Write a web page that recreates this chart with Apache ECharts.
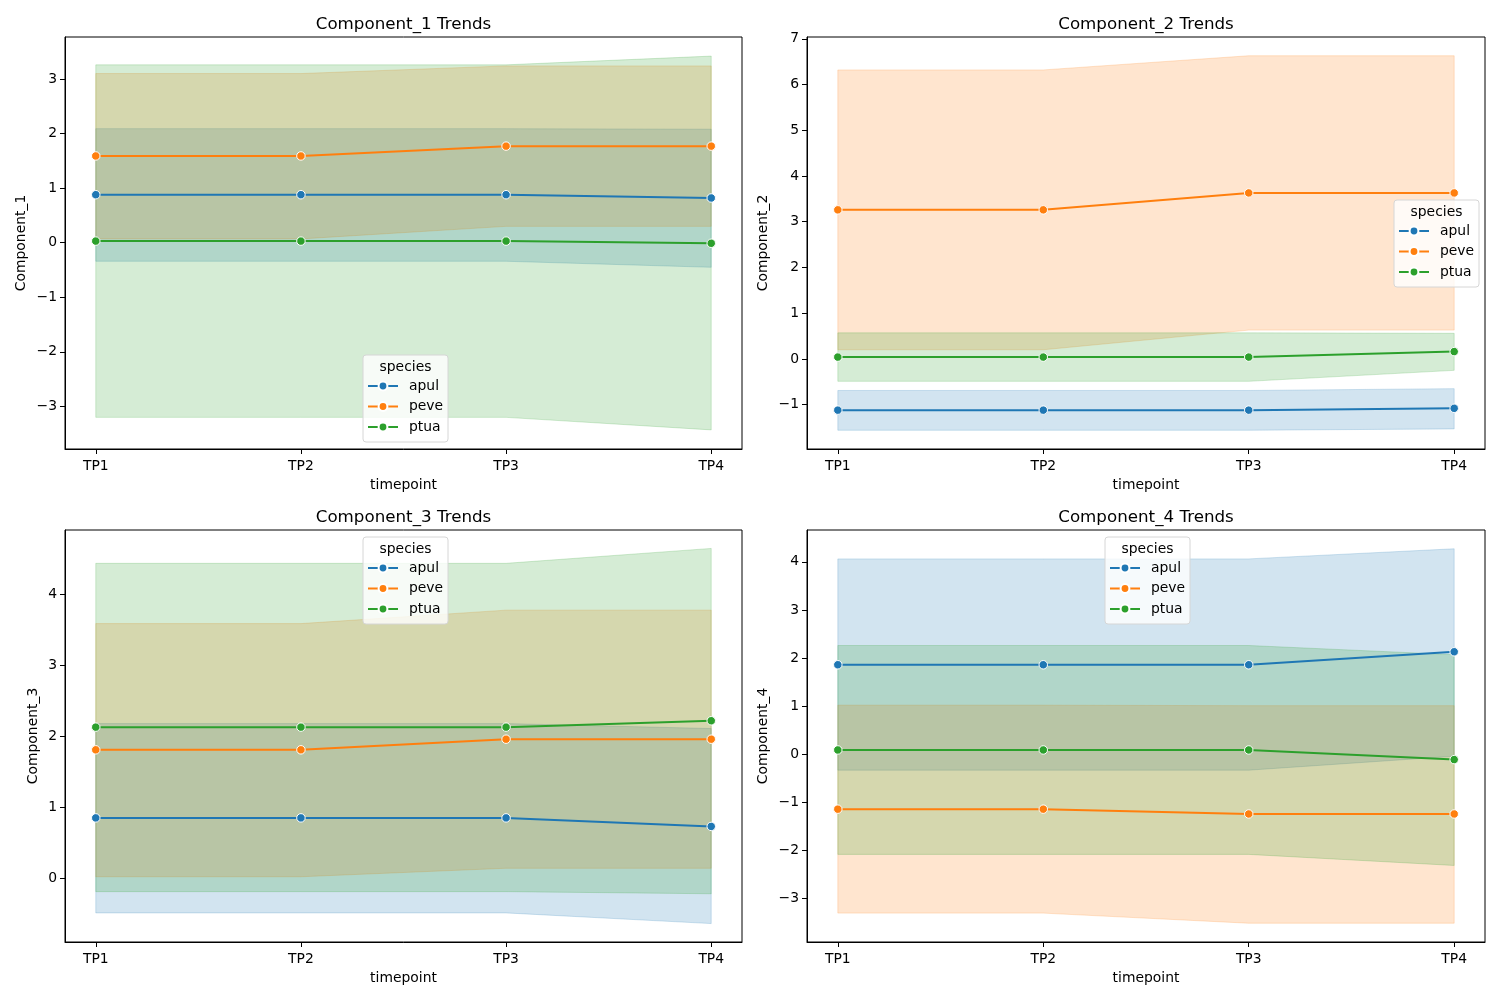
<!DOCTYPE html>
<html>
<head>
<meta charset="utf-8">
<script src="https://cdn.jsdelivr.net/npm/echarts@6/dist/echarts.min.js"></script>
<style>html,body{margin:0;padding:0;background:#fff;}#chart{width:1500px;height:1000px;}</style>
</head>
<body>
<div id="chart"></div>
<script>
const timepoints = ['TP1', 'TP2', 'TP3', 'TP4'];
const species = ['apul', 'peve', 'ptua'];
const components = ['Component_1', 'Component_2', 'Component_3', 'Component_4'];

// Component_1
const c1_apul_mean = [0.88, 0.88, 0.88, 0.82];
const c1_apul_lo   = [-0.34, -0.34, -0.34, -0.45];
const c1_apul_hi   = [2.09, 2.09, 2.09, 2.08];
const c1_peve_mean = [1.59, 1.59, 1.77, 1.77];
const c1_peve_lo   = [0.07, 0.07, 0.30, 0.30];
const c1_peve_hi   = [3.10, 3.10, 3.24, 3.24];
const c1_ptua_mean = [0.03, 0.03, 0.03, -0.01];
const c1_ptua_lo   = [-3.20, -3.20, -3.20, -3.43];
const c1_ptua_hi   = [3.26, 3.26, 3.26, 3.42];

// Component_2
const c2_apul_mean = [-1.12, -1.12, -1.12, -1.08];
const c2_apul_lo   = [-1.56, -1.56, -1.56, -1.53];
const c2_apul_hi   = [-0.69, -0.69, -0.69, -0.65];
const c2_peve_mean = [3.26, 3.26, 3.63, 3.63];
const c2_peve_lo   = [0.20, 0.20, 0.63, 0.63];
const c2_peve_hi   = [6.32, 6.32, 6.63, 6.63];
const c2_ptua_mean = [0.04, 0.04, 0.04, 0.16];
const c2_ptua_lo   = [-0.49, -0.49, -0.49, -0.25];
const c2_ptua_hi   = [0.57, 0.57, 0.57, 0.56];

// Component_3
const c3_apul_mean = [0.85, 0.85, 0.85, 0.73];
const c3_apul_lo   = [-0.49, -0.49, -0.49, -0.64];
const c3_apul_hi   = [2.18, 2.18, 2.18, 2.11];
const c3_peve_mean = [1.81, 1.81, 1.96, 1.96];
const c3_peve_lo   = [0.02, 0.02, 0.14, 0.14];
const c3_peve_hi   = [3.59, 3.59, 3.78, 3.78];
const c3_ptua_mean = [2.13, 2.13, 2.13, 2.22];
const c3_ptua_lo   = [-0.19, -0.19, -0.19, -0.22];
const c3_ptua_hi   = [4.44, 4.44, 4.44, 4.65];

// Component_4
const c4_apul_mean = [1.86, 1.86, 1.86, 2.13];
const c4_apul_lo   = [-0.33, -0.33, -0.33, -0.04];
const c4_apul_hi   = [4.06, 4.06, 4.06, 4.27];
const c4_peve_mean = [-1.14, -1.14, -1.24, -1.24];
const c4_peve_lo   = [-3.30, -3.30, -3.51, -3.51];
const c4_peve_hi   = [1.02, 1.02, 1.01, 1.01];
const c4_ptua_mean = [0.09, 0.09, 0.09, -0.11];
const c4_ptua_lo   = [-2.08, -2.08, -2.08, -2.31];
const c4_ptua_hi   = [2.26, 2.26, 2.26, 2.07];

// y-axis ticks and limits
const yTicks = [[-3, -2, -1, 0, 1, 2, 3], [-1, 0, 1, 2, 3, 4, 5, 6, 7], [0, 1, 2, 3, 4], [-3, -2, -1, 0, 1, 2, 3, 4]];
const yLimits = [[-3.78, 3.77], [-1.97, 7.04], [-0.90, 4.91], [-3.90, 4.66]];

const data = [
  { apul: [c1_apul_mean, c1_apul_lo, c1_apul_hi], peve: [c1_peve_mean, c1_peve_lo, c1_peve_hi], ptua: [c1_ptua_mean, c1_ptua_lo, c1_ptua_hi] },
  { apul: [c2_apul_mean, c2_apul_lo, c2_apul_hi], peve: [c2_peve_mean, c2_peve_lo, c2_peve_hi], ptua: [c2_ptua_mean, c2_ptua_lo, c2_ptua_hi] },
  { apul: [c3_apul_mean, c3_apul_lo, c3_apul_hi], peve: [c3_peve_mean, c3_peve_lo, c3_peve_hi], ptua: [c3_ptua_mean, c3_ptua_lo, c3_ptua_hi] },
  { apul: [c4_apul_mean, c4_apul_lo, c4_apul_hi], peve: [c4_peve_mean, c4_peve_lo, c4_peve_hi], ptua: [c4_ptua_mean, c4_ptua_lo, c4_ptua_hi] }
];

const colors = { apul: '#1f77b4', peve: '#ff7f0e', ptua: '#2ca02c' };
const bandColors = { apul: 'rgba(31,119,180,0.2)', peve: 'rgba(255,127,14,0.2)', ptua: 'rgba(44,160,44,0.2)' };

const FONT = 'DejaVu Sans';
const grids = [
  { left: 65, top: 37, width: 677, height: 412 },
  { left: 807, top: 37, width: 678, height: 412 },
  { left: 65, top: 530, width: 677, height: 412 },
  { left: 807, top: 530, width: 678, height: 412 }
];
const yNameGap = [37, 37, 25, 37];
const legendBoxes = [
  { x: 363, y: 355 }, { x: 1394, y: 200 }, { x: 363, y: 537 }, { x: 1105, y: 537 }
];
const BOXW = 85, BOXH = 87;

function fmtNum(v) { return v < 0 ? '\u2212' + Math.abs(v) : String(v); }

function makeBand(fill) {
  return function (params, api) {
    if (params.dataIndexInside !== 0) return null;
    const n = params.dataInsideLength;
    const top = [], bot = [];
    for (let i = 0; i < n; i++) {
      top.push(api.coord([api.value(0, i), api.value(2, i)]));
      bot.push(api.coord([api.value(0, i), api.value(1, i)]));
    }
    return {
      type: 'polygon',
      shape: { points: top.concat(bot.reverse()) },
      style: { fill: fill, stroke: fill, lineWidth: 1 }
    };
  };
}

const xAxis = [], yAxis = [], series = [], legend = [], graphic = [];

grids.forEach((g, p) => {
  xAxis.push({
    type: 'value', gridIndex: p, min: -0.15, max: 3.15,
    name: 'timepoint', nameLocation: 'middle', nameGap: 29,
    nameTextStyle: { fontFamily: FONT, fontSize: 13.9, color: '#000' },
    axisLine: { onZero: false, lineStyle: { color: '#000', width: 1 } },
    axisTick: { show: true, length: 5, lineStyle: { color: '#000' }, customValues: [0, 1, 2, 3] },
    axisLabel: { margin: 10, fontFamily: FONT, fontSize: 13.9, color: '#000', customValues: [0, 1, 2, 3],
      formatter: v => timepoints[Math.round(v)] },
    splitLine: { show: false }
  });
  yAxis.push({
    type: 'value', gridIndex: p, min: yLimits[p][0], max: yLimits[p][1],
    name: components[p], nameLocation: 'middle', nameGap: yNameGap[p],
    nameTextStyle: { fontFamily: FONT, fontSize: 13.9, color: '#000' },
    axisLine: { show: true, onZero: false, lineStyle: { color: '#000', width: 1 } },
    axisTick: { show: true, length: 5, lineStyle: { color: '#000' }, customValues: yTicks[p] },
    axisLabel: { margin: 8, fontFamily: FONT, fontSize: 13.9, color: '#000', customValues: yTicks[p],
      formatter: v => fmtNum(v) },
    splitLine: { show: false }
  });
  species.forEach(s => {
    const [mean, lo, hi] = data[p][s];
    series.push({
      type: 'custom', name: s + '_band_' + p, xAxisIndex: p, yAxisIndex: p, z: 1,
      renderItem: makeBand(bandColors[s]),
      encode: { x: 0, y: [1, 2] },
      data: timepoints.map((t, i) => [i, lo[i], hi[i]]),
      silent: true
    });
  });
  species.forEach(s => {
    const mean = data[p][s][0];
    series.push({
      type: 'line', name: s, xAxisIndex: p, yAxisIndex: p, z: 3,
      color: colors[s],
      symbol: 'circle', symbolSize: 8.5, showSymbol: true,
      itemStyle: { color: colors[s], borderColor: '#fff', borderWidth: 1 },
      lineStyle: { width: 2, color: colors[s] },
      emphasis: { disabled: true },
      data: timepoints.map((t, i) => [i, mean[i]])
    });
  });
  const b = legendBoxes[p];
  legend.push({
    data: species, orient: 'vertical', left: b.x + 4, top: b.y + 23,
    itemWidth: 30, itemHeight: 11, itemGap: 4.5, padding: 0, selectedMode: false, z: 20,
    textStyle: { fontFamily: FONT, fontSize: 13.9, color: '#000', lineHeight: 16, padding: [0, 0, 0, 6] }
  });
  graphic.push({
    type: 'rect', z: 10, silent: true,
    shape: { x: b.x, y: b.y, width: BOXW, height: BOXH, r: 3 },
    style: { fill: 'rgba(255,255,255,0.8)', stroke: '#d6d6d6', lineWidth: 1 }
  });
  graphic.push({
    type: 'text', z: 11, silent: true,
    x: b.x + BOXW / 2, y: b.y + 12,
    style: { text: 'species', fontFamily: FONT, fontSize: 13.9, fill: '#000', align: 'center', verticalAlign: 'middle' }
  });
  graphic.push({
    type: 'text', z: 11, silent: true,
    x: g.left + g.width / 2, y: g.top - 12,
    style: { text: components[p] + ' Trends', fontFamily: FONT, fontSize: 16.7, fill: '#000', align: 'center', verticalAlign: 'middle' }
  });
});

const chart = echarts.init(document.getElementById('chart'), null, { renderer: 'canvas' });
chart.setOption({
  animation: false,
  backgroundColor: '#fff',
  grid: grids.map(g => Object.assign({ show: true, borderColor: '#000', borderWidth: 1, backgroundColor: 'transparent' }, g)),
  xAxis, yAxis, series, legend, graphic
});
</script>
</body>
</html>
